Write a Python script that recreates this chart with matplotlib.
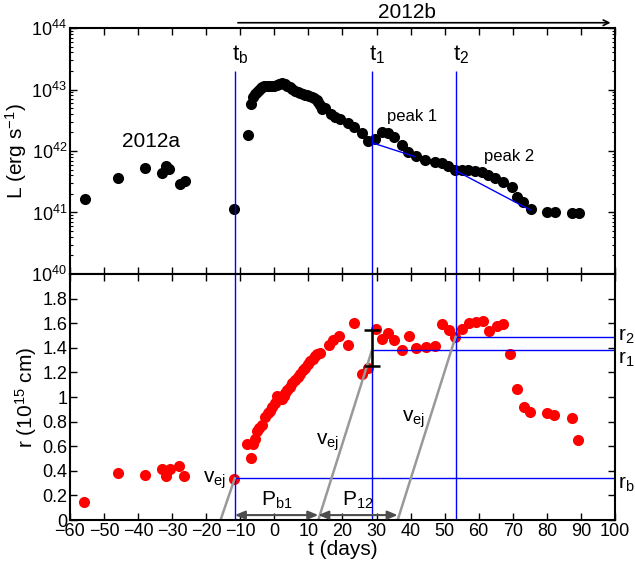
import matplotlib
matplotlib.use('Agg')
import matplotlib.pyplot as plt
from matplotlib.ticker import LogLocator, NullFormatter, FixedLocator

plt.rcParams['font.family'] = ['Liberation Sans', 'DejaVu Sans']
plt.rcParams['mathtext.default'] = 'regular'

# --- data ---
# 2012a luminosity
a_t_L = [-55.6, -45.8, -38.0, -32.9, -31.9, -30.9, -27.7, -26.2]
a_L = [1.64e41, 3.68e41, 5.3e41, 4.44e41, 5.7e41, 5.1e41, 2.94e41, 3.25e41]

# 2012b luminosity
b_t_L = [-11.85, -7.65, -6.9, -6.2, -5.6, -5.2, -4.6, -4.0, -3.5, -3.0, -2.3, -1.6,
         -0.8, 0.0, 0.7, 1.4, 2.2, 2.8, 3.2, 3.8, 4.6, 5.3, 6.1, 6.8, 7.5, 8.3,
         9.0, 9.6, 10.3, 11.0, 11.7, 12.4, 12.9, 13.4, 13.9, 14.9, 16.5, 17.8,
         19.3, 21.7, 23.4, 25.6, 27.4, 29.6, 31.5, 33.3, 35.0, 37.4, 39.3, 41.5,
         44.2, 47.2, 49.1, 51.1, 53.0, 55.0, 56.9, 58.9, 60.9, 62.8, 64.8, 67.2,
         69.7, 71.1, 73.1, 75.3, 80.0, 82.4, 87.3, 89.5]
b_L = [1.15e41, 1.82e42, 5.9e42, 7.6e42, 8.5e42, 9.1e42, 1.0e43, 1.05e43, 1.09e43,
       1.12e43, 1.15e43, 1.15e43, 1.13e43, 1.15e43, 1.2e43, 1.23e43, 1.26e43,
       1.24e43, 1.22e43, 1.15e43, 1.08e43, 1.02e43, 9.6e42, 9.1e42, 8.7e42,
       8.4e42, 8.2e42, 8.0e42, 7.8e42, 7.6e42, 7.2e42, 6.8e42, 6.3e42, 5.6e42,
       4.9e42, 5.0e42, 4.0e42, 3.6e42, 3.27e42, 2.82e42, 2.48e42, 1.94e42,
       1.47e42, 1.55e42, 2.04e42, 1.95e42, 1.7e42, 1.23e42, 9.5e41, 8.3e41,
       7.1e41, 6.7e41, 6.3e41, 5.6e41, 4.9e41, 5.0e41, 4.9e41, 4.7e41, 4.5e41,
       4.1e41, 3.6e41, 3.16e41, 2.57e41, 1.77e41, 1.5e41, 1.14e41, 1.02e41,
       1.0e41, 9.7e40, 9.7e40]

# 2012a radius
a_t_r = [-55.8, -45.8, -38.0, -32.9, -31.9, -30.6, -28.0, -26.4]
a_r = [0.15, 0.38, 0.37, 0.415, 0.36, 0.415, 0.437, 0.36]

# 2012b radius
b_t_r = [-11.8, -8.1, -6.95, -6.2, -5.7, -5.2, -4.5, -3.7, -2.75, -2.0, -1.3, -0.6,
         0.2, 0.7, 1.2, 1.7, 2.2, 2.7, 3.1, 3.8, 4.6, 5.3, 6.1, 6.8, 7.5, 8.3,
         9.0, 9.8, 10.5, 11.2, 11.9, 12.6, 13.4, 16.1, 17.3, 19.1, 21.6, 23.4,
         25.6, 27.6, 29.8, 31.5, 33.3, 35.2, 37.4, 39.5, 41.5, 44.4, 47.2, 49.1,
         51.3, 53.0, 55.2, 57.1, 59.1, 61.3, 63.1, 65.3, 67.2, 69.2, 71.2, 73.3,
         75.05, 80.0, 82.2, 87.3, 89.2]
b_r = [0.333, 0.62, 0.507, 0.62, 0.66, 0.72, 0.75, 0.77, 0.84, 0.87, 0.89, 0.92,
       0.95, 1.01, 0.99, 1.0, 0.98, 1.01, 1.03, 1.06, 1.08, 1.11, 1.14, 1.16,
       1.19, 1.22, 1.24, 1.27, 1.29, 1.31, 1.33, 1.35, 1.36, 1.42, 1.46, 1.50,
       1.42, 1.60, 1.19, 1.24, 1.55, 1.47, 1.52, 1.46, 1.38, 1.50, 1.40, 1.41,
       1.415, 1.59, 1.545, 1.49, 1.55, 1.60, 1.607, 1.62, 1.54, 1.58, 1.59,
       1.35, 1.065, 0.92, 0.876, 0.872, 0.851, 0.827, 0.65]

# characteristic times and radii
t_b, t_1, t_2 = -11.6, 28.7, 53.2
r_b, r_1, r_2 = 0.34, 1.385, 1.49
t_start = [-15.8, 12.9, 36.2]   # ejection times (where v_ej lines start)
r_err = [1.25, 1.545]

fig = plt.figure(figsize=(6.35, 5.72), dpi=100)
ax1 = fig.add_axes([0.1102, 0.521, 0.8583, 0.430])
ax2 = fig.add_axes([0.1102, 0.0909, 0.8583, 0.430], sharex=ax1)

# ---- top panel: luminosity ----
ax1.semilogy(a_t_L, a_L, 'o', color='k', ms=8, mec='none')
ax1.semilogy(b_t_L, b_L, 'o', color='k', ms=8, mec='none')
for t in (t_b, t_1, t_2):
    ax1.vlines(t, 1e40, 2e43, color='b', lw=1)
ax1.plot([t_1, 41.3], [1.36e42, 8.1e41], color='b', lw=1)
ax1.plot([t_2, 75.1], [4.8e41, 1.1e41], color='b', lw=1)

ax1.set_yscale('log')
ax1.set_ylim(1e40, 1e44)
ax1.set_xlim(-60, 100)
ax1.yaxis.set_major_locator(LogLocator(base=10, numticks=10))
ax1.yaxis.set_minor_locator(LogLocator(base=10, subs=range(2, 10), numticks=10))
ax1.yaxis.set_minor_formatter(NullFormatter())
ax1.set_ylabel('L (erg s$^{-1}$)', fontsize=15, labelpad=2)
ax1.tick_params(labelbottom=False)

ax1.text(-36.2, 1.45e42, '2012a', fontsize=15, ha='center', va='center')
ax1.text(40.5, 3.6e42, 'peak 1', fontsize=12, ha='center', va='center')
ax1.text(69.0, 8.0e41, 'peak 2', fontsize=12, ha='center', va='center')
for t, s in ((t_b, 'b'), (t_1, '1'), (t_2, '2')):
    ax1.text(t + 1.5, 2.4e43, '$t_{%s}$' % s, fontsize=16, ha='center', va='bottom')

ax1.annotate('', xy=(0.997, 1.0215), xytext=(0.303, 1.0215), xycoords='axes fraction',
             arrowprops=dict(arrowstyle='->', color='k', lw=1.2), annotation_clip=False)
ax1.text(0.618, 1.062, '2012b', transform=ax1.transAxes, fontsize=15,
         ha='center', va='center')

# ---- bottom panel: radius ----
ax2.plot(a_t_r, a_r, 'o', color='r', ms=8, mec='none')
ax2.plot(b_t_r, b_r, 'o', color='r', ms=8, mec='none')
for t in (t_b, t_1, t_2):
    ax2.axvline(t, color='b', lw=1)
ax2.hlines(r_b, t_b, 100, color='b', lw=1)
ax2.hlines(r_1, t_1, 100, color='b', lw=1)
ax2.hlines(r_2, t_2, 100, color='b', lw=1)

# ejecta lines
for t0, t, r in zip(t_start, (t_b, t_1, t_2), (r_b, r_1, r_2)):
    ax2.plot([t0, t], [0, r], color='0.6', lw=1.8)

ax2.errorbar([t_1 - 0.1], [(r_err[0] + r_err[1]) / 2], yerr=[(r_err[1] - r_err[0]) / 2],
             fmt='none', ecolor='k', elinewidth=1.8, capsize=6, capthick=1.8)

ax2.annotate('', xy=(t_start[1], 0.04), xytext=(t_b, 0.04),
             arrowprops=dict(arrowstyle='<|-|>,head_width=0.25,head_length=0.6',
                             color='0.3', lw=1.5, shrinkA=0, shrinkB=0))
ax2.annotate('', xy=(t_start[2], 0.04), xytext=(t_start[1], 0.04),
             arrowprops=dict(arrowstyle='<|-|>,head_width=0.25,head_length=0.6',
                             color='0.3', lw=1.5, shrinkA=0, shrinkB=0))
ax2.text(0.6, 0.16, '$P_{b1}$', fontsize=15, ha='center', va='center')
ax2.text(24.5, 0.16, '$P_{12}$', fontsize=15, ha='center', va='center')
ax2.text(-17.5, 0.32, '$v_{ej}$', fontsize=15, ha='center', va='center')
ax2.text(15.5, 0.63, '$v_{ej}$', fontsize=15, ha='center', va='center')
ax2.text(41.0, 0.82, '$v_{ej}$', fontsize=15, ha='center', va='center')

ax2.text(100.8, r_2 + 0.0, '$r_{2}$', fontsize=15, ha='left', va='center')
ax2.text(100.8, r_1 - 0.08, '$r_{1}$', fontsize=15, ha='left', va='center')
ax2.text(100.8, r_b - 0.05, '$r_{b}$', fontsize=15, ha='left', va='center')

ax2.set_ylim(0, 2)
ax2.set_xlim(-60, 100)
ax2.set_xticks(range(-60, 101, 10))
ax2.yaxis.set_major_locator(FixedLocator([0, 0.2, 0.4, 0.6, 0.8, 1.0, 1.2, 1.4, 1.6, 1.8]))
ax2.set_yticklabels(['0', '0.2', '0.4', '0.6', '0.8', '1', '1.2', '1.4', '1.6', '1.8'])
ax2.set_xlabel('t (days)', fontsize=15, labelpad=0)
ax2.set_ylabel('r (10$^{15}$ cm)', fontsize=15, labelpad=2)

for ax in (ax1, ax2):
    ax.tick_params(which='both', direction='in', top=True, right=True, labelsize=13)
    ax.tick_params(which='major', length=5, width=1, pad=2)
    ax.tick_params(which='minor', length=2.5, width=0.8)
    for sp in ax.spines.values():
        sp.set_linewidth(1.5)

fig.savefig('out.png', dpi=100)
